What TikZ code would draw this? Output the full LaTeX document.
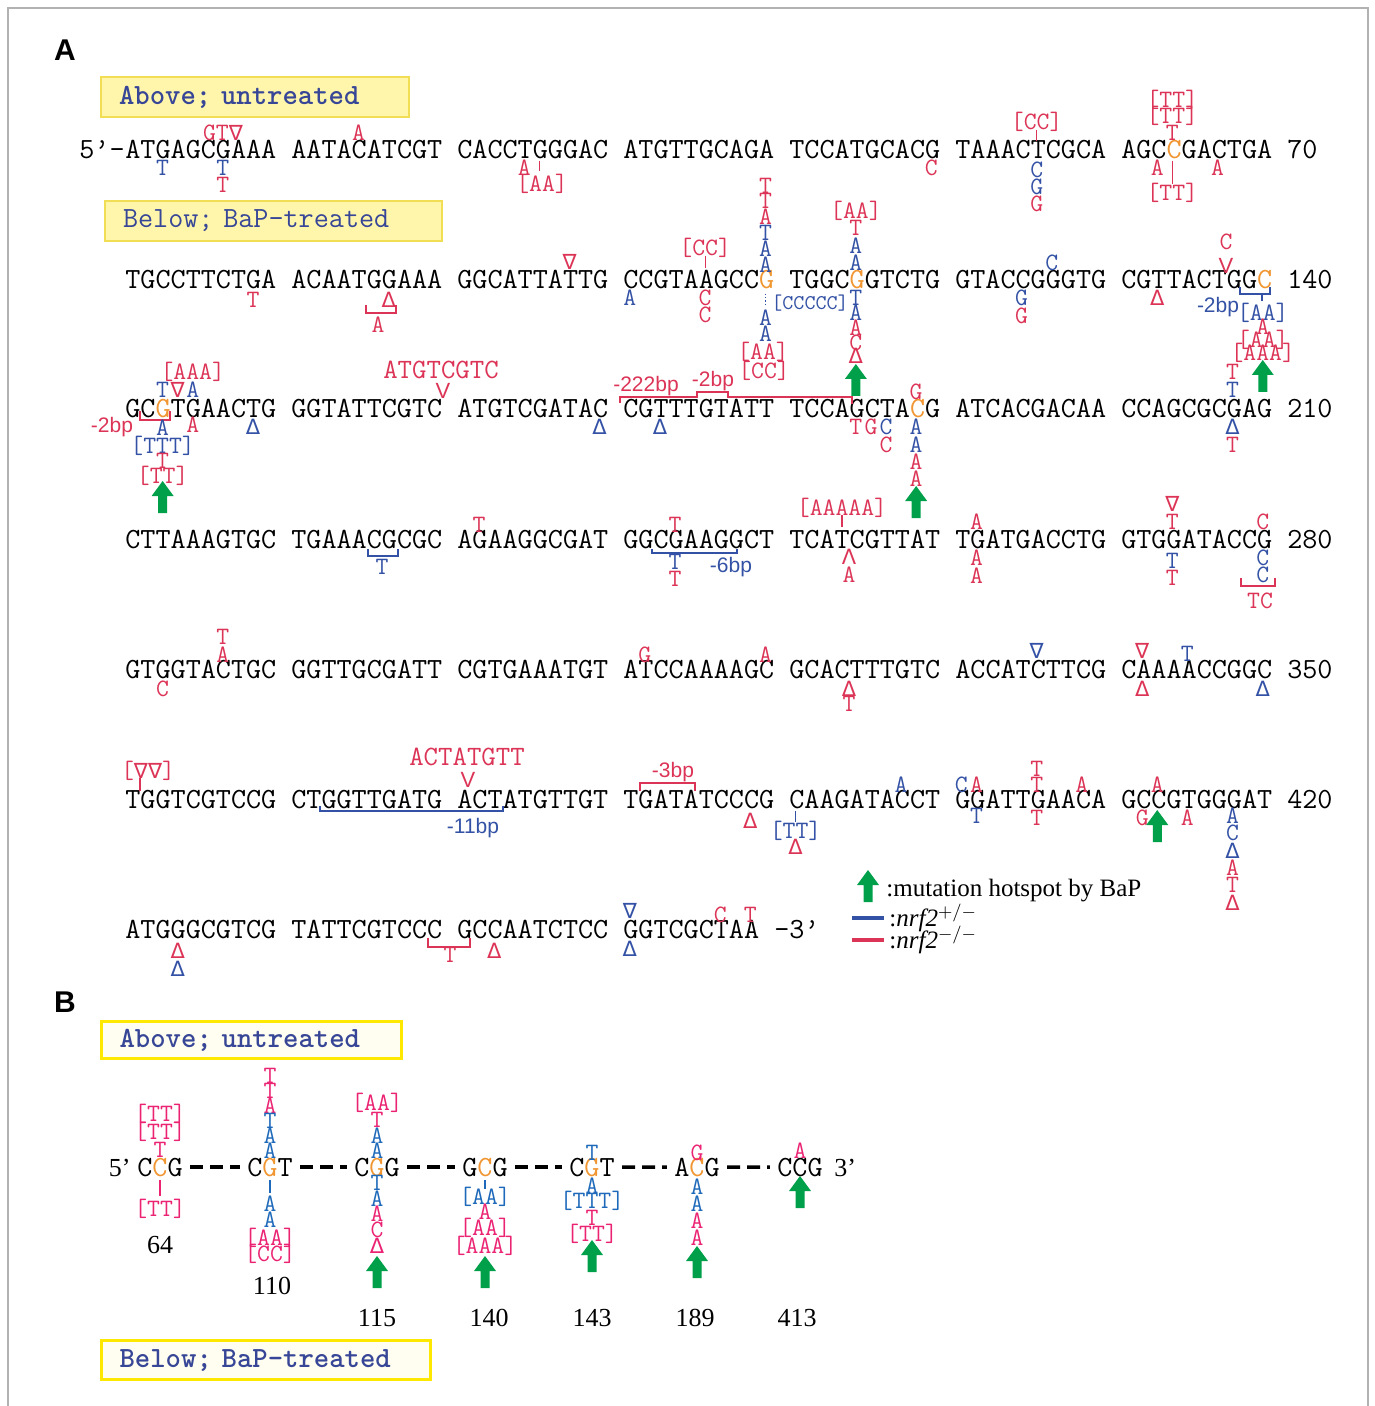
\documentclass[tikz,border=0pt]{standalone}
\usepackage{fontspec}
\setmainfont{Liberation Serif}
\newfontfamily\labfont{Liberation Sans}
\newfontfamily\trifont{DejaVu Sans}
\usetikzlibrary{positioning}

\definecolor{mred}{RGB}{220,52,86}
\definecolor{mblue}{RGB}{52,82,165}
\definecolor{hot}{RGB}{240,150,50}
\definecolor{hotgreen}{RGB}{0,160,75}
\definecolor{bred}{RGB}{235,35,115}
\definecolor{bblue}{RGB}{30,105,185}
\definecolor{boxfill}{RGB}{255,246,172}
\definecolor{boxline}{RGB}{242,222,84}
\definecolor{bboxline}{RGB}{255,232,0}
\definecolor{boxtext}{RGB}{55,70,150}

\newcommand\kx[1]{132.5+15.07*#1}
\newcounter{mk}
\newcommand\mk[4]{\stepcounter{mk}\node[ann,text=#1] (mk\arabic{mk}) at ({#2},{#3+8}) {#4};}
\newcommand\bp[4]{\stepcounter{mk}\node[bplab,text=#1] (bp\arabic{mk}) at ({#2},{#3+8}) {#4};}
\newcommand\ins[4]{\stepcounter{mk}\node[inslab,text=#1] (in\arabic{mk}) at ({#2},{#3+8}) {#4};}
\newcommand\Dtri{{\fontsize{10.5pt}{10.5pt}\trifont Δ}}
\newcommand\Ntri{{\fontsize{10.5pt}{10.5pt}\trifont ∇}}
\newcommand\Ltri{{\fontsize{10.5pt}{10.5pt}\trifont Λ}}
\newcommand\hc[1]{{\color{hot}#1}}

\tikzset{
  seq/.style={font=\fontsize{14.65pt}{16pt}\ttfamily, inner sep=0, text=black},
  ann/.style={font=\fontsize{12.5pt}{12.5pt}\ttfamily, inner sep=0, anchor=base},
  bplab/.style={font=\fontsize{10.5pt}{10.5pt}\labfont, inner sep=0, anchor=base},
  inslab/.style={font=\fontsize{11pt}{11pt}\labfont, inner sep=0, anchor=base},
  legend/.style={font=\fontsize{12.5pt}{13pt}\selectfont, inner sep=0, anchor=west},
  num/.style={font=\fontsize{13pt}{13pt}\selectfont, inner sep=0},
  plab/.style={font=\fontsize{15pt}{15pt}\labfont\bfseries, inner sep=0},
  tick/.style={line width=0.6pt},
  brk/.style={line width=0.8pt},
  abox/.style={draw=boxline, fill=boxfill, line width=1pt, anchor=north west,
    inner xsep=9pt, inner ysep=0, align=left, text=boxtext,
    font=\fontsize{14.65pt}{16pt}\ttfamily},
  bbox/.style={abox, draw=bboxline, fill=yellow!6, line width=1.6pt},
  bdash/.style={line width=1.75pt, dash pattern=on 6.5pt off 3.5pt},
  triplet/.style={seq, anchor=base, inner xsep=3.5pt},
  hotspot/.pic={\fill[hotgreen] (-4.5,32)--(-4.5,15)--(-11,15)--(0,0)--(11,15)--(4.5,15)--(4.5,32)--cycle;}
}

\begin{document}
\begin{tikzpicture}[x=0.5pt,y=-0.5pt]
\useasboundingbox (0,0) rectangle (1374,1406);
\draw[gray!60,line width=0.8pt] (8,8) rectangle (1368,1430);
\node[plab] (pA) at (65,50) {A};
\node[plab] (pB) at (65,1002) {B};

\node[abox, text width=136pt, minimum height=20pt] (aboveA) at (100,76) {\bfseries Above; untreated};
\node[abox, text width=150.5pt, minimum height=20pt] (belowA) at (104,200) {Below; BaP-treated};

% sequence
\node[seq, anchor=base west] (row1) at (125,159) {ATGAGCGAAA AATACATCGT CACCTGGGAC ATGTTGCAGA TCCATGCACG TAAACTCGCA AGC\hc{C}GACTGA 70};
\node[seq, anchor=base east] (five) at (row1.base west) {5’-};
\node[seq, anchor=base west] (row2) at (125,289) {TGCCTTCTGA ACAATGGAAA GGCATTATTG CCGTAAGCC\hc{G} TGGC\hc{G}GTCTG GTACCGGGTG CGTTACTGG\hc{C} 140};
\node[seq, anchor=base west] (row3) at (125,418) {GC\hc{G}TGAACTG GGTATTCGTC ATGTCGATAC CGTTTGTATT TCCAGCTA\hc{C}G ATCACGACAA CCAGCGCGAG 210};
\node[seq, anchor=base west] (row4) at (125,548) {CTTAAAGTGC TGAAACGCGC AGAAGGCGAT GGCGAAGGCT TCATCGTTAT TGATGACCTG GTGGATACCG 280};
\node[seq, anchor=base west] (row5) at (125,678) {GTGGTACTGC GGTTGCGATT CGTGAAATGT ATCCAAAAGC GCACTTTGTC ACCATCTTCG CAAAACCGGC 350};
\node[seq, anchor=base west] (row6) at (125,808) {TGGTCGTCCG CTGGTTGATG ACTATGTTGT TGATATCCCG CAAGATACCT GGATTGAACA GCCGTGGGAT 420};
\node[seq, anchor=base west] (row7) at (125,938) {ATGGGCGTCG TATTCGTCCC GCCAATCTCC GGTCGCTAA -3’};

% row 1
\mk{mred}{\kx{6}}{133}{GT\Ntri}
\mk{mblue}{\kx{2}}{168}{T}
\mk{mblue}{\kx{6}}{168}{T}
\mk{mred}{\kx{6}}{185}{T}
\mk{mred}{\kx{15}}{133}{A}
\mk{mred}{\kx{26}}{168}{A}
\draw[mred,tick] ({\kx{27}},161)--({\kx{27}},171);
\mk{mred}{542}{184}{[AA]}
\mk{mred}{\kx{53}}{168}{C}
\mk{mred}{\kx{60}}{122}{[CC]}
\draw[mred,tick] ({\kx{60}},130)--({\kx{60}},141);
\mk{mblue}{\kx{60}}{170}{C}
\mk{mblue}{\kx{60}}{187}{G}
\mk{mred}{\kx{60}}{204}{G}
\mk{mred}{\kx{69}}{100}{[TT]}
\mk{mred}{\kx{69}}{116}{[TT]}
\mk{mred}{\kx{69}}{133}{T}
\mk{mred}{\kx{68}}{168}{A}
\draw[mred,tick] ({\kx{69}},161)--({\kx{69}},184);
\mk{mred}{\kx{69}}{193}{[TT]}
\mk{mred}{\kx{72}}{168}{A}

% row 2
\mk{mred}{\kx{8}}{300}{T}
\mk{mred}{\kx{17}}{300}{\Dtri}
\draw[mred,brk] (366,305)--(366,313)--(396,313)--(396,305);
\mk{mred}{378}{325}{A}
\mk{mred}{\kx{29}}{262}{\Ntri}
\mk{mblue}{\kx{33}}{298}{A}
\mk{mred}{\kx{38}}{248}{[CC]}
\draw[mred,tick] ({\kx{38}},256)--({\kx{38}},268);
\mk{mred}{\kx{38}}{298}{C}
\mk{mred}{\kx{38}}{315}{C}
\mk{mred}{\kx{42}}{186}{T}
\mk{mred}{\kx{42}}{201}{T}
\mk{mred}{\kx{42}}{217}{A}
\mk{mblue}{\kx{42}}{233}{T}
\mk{mblue}{\kx{42}}{249}{A}
\mk{mblue}{\kx{42}}{265}{A}
\draw[mblue,tick,densely dotted] ({\kx{42}},294)--({\kx{42}},306);
\mk{mblue}{810}{302}{\fontsize{10.5pt}{10.5pt}\selectfont[CCCCC]}
\mk{mblue}{\kx{42}}{318}{A}
\mk{mblue}{\kx{42}}{334}{A}
\mk{mred}{763}{352}{[AA]}
\mk{mred}{764}{371}{[CC]}
\mk{mred}{\kx{48}}{211}{[AA]}
\mk{mred}{\kx{48}}{228}{T}
\mk{mblue}{\kx{48}}{246}{A}
\mk{mblue}{\kx{48}}{263}{A}
\mk{mblue}{\kx{48}}{298}{T}
\mk{mblue}{\kx{48}}{313}{A}
\mk{mred}{\kx{48}}{328}{A}
\mk{mred}{\kx{48}}{343}{C}
\mk{mred}{\kx{48}}{356}{\Dtri}
\pic at ({\kx{48}},364) {hotspot};
\mk{mblue}{\kx{61}}{263}{C}
\mk{mblue}{\kx{59}}{298}{G}
\mk{mred}{\kx{59}}{316}{G}
\mk{mred}{\kx{68}}{298}{\Dtri}
\mk{mred}{1226}{242}{C}
\ins{mred}{1226}{266}{V}
\draw[mblue,brk] (1240,287)--(1240,294)--(1270,294)--(1270,287);
\draw[mblue,tick] (1262,294)--(1262,301);
\bp{mblue}{1218}{305}{-2bp}
\mk{mblue}{\kx{75}}{313}{[AA]}
\mk{mred}{\kx{75}}{327}{A}
\mk{mred}{\kx{75}}{340}{[AA]}
\mk{mred}{\kx{75}}{353}{[AAA]}
\pic at ({\kx{75}},360) {hotspot};

% row 3
\mk{mred}{\kx{4}}{372}{[AAA]}
\mk{mblue}{\kx{2}}{390}{T}
\mk{mred}{\kx{3}}{390}{\Ntri}
\mk{mblue}{\kx{4}}{390}{A}
\draw[mred,brk] (140,411)--(140,420)--(170,420)--(170,411);
\bp{mred}{112}{425}{-2bp}
\mk{mblue}{\kx{2}}{428}{A}
\mk{mred}{\kx{4}}{425}{A}
\mk{mblue}{\kx{8}}{427}{\Dtri}
\mk{mblue}{\kx{2}}{445}{[TTT]}
\mk{mred}{\kx{2}}{460}{T}
\mk{mred}{\kx{2}}{475}{[TT]}
\pic at ({\kx{2}},481) {hotspot};
\mk{mred}{441}{371}{\fontsize{14pt}{14pt}\selectfont ATGTCGTC}
\ins{mred}{443}{391}{V}
\mk{mblue}{\kx{31}}{427}{\Dtri}
\mk{mblue}{\kx{35}}{427}{\Dtri}
\bp{mred}{646}{384}{-222bp}
\bp{mred}{713}{379}{-2bp}
\draw[mred,brk] (620,403)--(620,397)--(697,397)--(697,392)--(728,392)--(728,397)--(852,397)--(852,404);
\mk{mred}{\kx{52}}{392}{G}
\mk{mred}{\kx{48}}{427}{T}
\mk{mred}{\kx{49}}{427}{G}
\mk{mblue}{\kx{50}}{427}{C}
\mk{mred}{\kx{50}}{444}{C}
\mk{mblue}{\kx{52}}{427}{A}
\mk{mblue}{\kx{52}}{444}{A}
\mk{mred}{\kx{52}}{461}{A}
\mk{mred}{\kx{52}}{478}{A}
\pic at ({\kx{52}},486) {hotspot};
\mk{mred}{\kx{73}}{372}{T}
\mk{mblue}{\kx{73}}{390}{T}
\mk{mblue}{\kx{73}}{427}{\Dtri}
\mk{mred}{\kx{73}}{444}{T}

% row 4
\draw[mblue,brk] (368,549)--(368,556)--(398,556)--(398,549);
\mk{mblue}{382}{566}{T}
\mk{mred}{\kx{23}}{524}{T}
\mk{mred}{\kx{36}}{524}{T}
\draw[mblue,brk] (652,549)--(652,553)--(737,553)--(737,549);
\mk{mblue}{\kx{36}}{561}{T}
\mk{mred}{\kx{36}}{578}{T}
\bp{mblue}{731}{564}{-6bp}
\mk{mred}{842}{507}{[AAAAA]}
\draw[mred,tick] (842,515)--(842,527);
\mk{mred}{849}{556}{\Ltri}
\mk{mred}{849}{574}{A}
\mk{mred}{\kx{56}}{521}{A}
\mk{mred}{\kx{56}}{557}{A}
\mk{mred}{\kx{56}}{575}{A}
\mk{mred}{\kx{69}}{503}{\Ntri}
\mk{mred}{\kx{69}}{521}{T}
\mk{mblue}{\kx{69}}{560}{T}
\mk{mred}{\kx{69}}{577}{T}
\mk{mred}{\kx{75}}{521}{C}
\mk{mblue}{\kx{75}}{557}{C}
\mk{mblue}{\kx{75}}{574}{C}
\draw[mred,brk] (1241,578)--(1241,586)--(1275,586)--(1275,578);
\mk{mred}{1260}{600}{TC}

% row 5
\mk{mred}{\kx{6}}{636}{T}
\mk{mred}{\kx{6}}{654}{A}
\mk{mred}{\kx{2}}{688}{C}
\mk{mred}{\kx{34}}{654}{G}
\mk{mred}{\kx{42}}{654}{A}
\mk{mred}{849}{688}{\Dtri}
\mk{mred}{849}{703}{T}
\mk{mblue}{\kx{60}}{650}{\Ntri}
\mk{mred}{\kx{67}}{650}{\Ntri}
\mk{mblue}{\kx{70}}{653}{T}
\mk{mred}{\kx{67}}{688}{\Dtri}
\mk{mblue}{\kx{75}}{688}{\Dtri}

% row 6
\mk{mred}{148}{770}{[\Ntri\Ntri]}
\draw[mred,tick] (140,778)--(140,791);
\draw[mblue,brk] (320,806)--(320,811)--(503,811)--(503,806);
\bp{mblue}{473}{825}{-11bp}
\mk{mred}{467}{757}{\fontsize{14pt}{14pt}\selectfont ACTATGTT}
\ins{mred}{468}{779}{V}
\draw[mred,brk] (640,791)--(640,783)--(695,783)--(695,791);
\bp{mred}{673}{769}{-3bp}
\mk{mred}{\kx{41}}{820}{\Dtri}
\draw[mblue,tick] ({\kx{44}},811)--({\kx{44}},822);
\mk{mblue}{\kx{44}}{830}{[TT]}
\mk{mred}{\kx{44}}{846}{\Dtri}
\mk{mblue}{\kx{51}}{784}{A}
\mk{mblue}{\kx{55}}{784}{C}
\mk{mred}{\kx{56}}{784}{A}
\mk{mblue}{\kx{56}}{815}{T}
\mk{mred}{\kx{60}}{768}{T}
\mk{mred}{\kx{60}}{784}{T}
\mk{mred}{\kx{60}}{817}{T}
\mk{mred}{\kx{63}}{784}{A}
\mk{mred}{\kx{68}}{784}{A}
\mk{mred}{\kx{67}}{817}{G}
\pic at ({\kx{68}},810) {hotspot};
\mk{mred}{\kx{70}}{817}{A}
\mk{mblue}{\kx{73}}{815}{A}
\mk{mblue}{\kx{73}}{832}{C}
\mk{mblue}{\kx{73}}{850}{\Dtri}
\mk{mred}{\kx{73}}{867}{A}
\mk{mred}{\kx{73}}{884}{T}
\mk{mred}{\kx{73}}{902}{\Dtri}

% row 7
\mk{mred}{\kx{3}}{950}{\Dtri}
\mk{mblue}{\kx{3}}{968}{\Dtri}
\draw[mred,brk] (428,938)--(428,947)--(470,947)--(470,938);
\mk{mred}{450}{954}{T}
\mk{mred}{\kx{24}}{950}{\Dtri}
\mk{mblue}{\kx{33}}{910}{\Ntri}
\mk{mblue}{\kx{33}}{948}{\Dtri}
\mk{mred}{\kx{39}}{914}{C}
\mk{mred}{\kx{41}}{914}{T}

% legend
\pic at (868,870) {hotspot};
\node[legend] (lg1) at (886,891) {:mutation hotspot by BaP};
\coordinate (kb) at (884,918);
\draw[mblue,line width=2pt] (852,918) -- (kb);
\node[legend, right=2.5pt of kb] (lg2) {:\textit{nrf2}$^{+/-}$};
\coordinate (kr) at (884,940);
\draw[mred,line width=2pt] (852,940) -- (kr);
\node[legend, right=2.5pt of kr] (lg3) {:\textit{nrf2}$^{-/-}$};

% panel B
\node[bbox, text width=132pt, minimum height=18.5pt] (aboveB) at (100,1020) {\bfseries Above; untreated};
\node[bbox, text width=146.5pt, minimum height=19.5pt] (belowB) at (100,1339) {\bfseries Below; BaP-treated};

\node[triplet] (t64) at (160,1176) {C\hc{C}G};
\node[triplet] (t110) at (270,1176) {C\hc{G}T};
\node[triplet] (t115) at (377,1176) {C\hc{G}G};
\node[triplet] (t140) at (485,1176) {G\hc{C}G};
\node[triplet] (t143) at (592,1176) {C\hc{G}T};
\node[triplet] (t189) at (697,1176) {A\hc{C}G};
\node[triplet] (t413) at (800,1176) {CCG};
\node[num, anchor=base east] (b5) at (131,1176) {5’};
\node[num, anchor=base west] (b3) at (834,1176) {3’};
\draw[bdash] (t64) -- (t110);
\draw[bdash] (t110) -- (t115);
\draw[bdash] (t115) -- (t140);
\draw[bdash] (t140) -- (t143);
\draw[bdash] (t143) -- (t189);
\draw[bdash] (t189) -- (t413);

\mk{bred}{160}{1113}{[TT]}
\mk{bred}{160}{1131}{[TT]}
\mk{bred}{160}{1149}{T}
\draw[bred,tick] (160,1180)--(160,1196);
\mk{bred}{160}{1208}{[TT]}

\mk{bred}{270}{1075}{T}
\mk{bred}{270}{1090}{T}
\mk{bred}{270}{1105}{A}
\mk{bblue}{270}{1120}{T}
\mk{bblue}{270}{1135}{A}
\mk{bblue}{270}{1150}{A}
\draw[bblue,tick] (270,1180)--(270,1193);
\mk{bblue}{270}{1203}{A}
\mk{bblue}{270}{1219}{A}
\mk{bred}{270}{1237}{[AA]}
\mk{bred}{270}{1253}{[CC]}

\mk{bred}{377}{1102}{[AA]}
\mk{bred}{377}{1119}{T}
\mk{bblue}{377}{1135}{A}
\mk{bblue}{377}{1150}{A}
\mk{bblue}{377}{1182}{T}
\mk{bblue}{377}{1198}{A}
\mk{bred}{377}{1213}{A}
\mk{bred}{377}{1229}{C}
\mk{bred}{377}{1245}{\Dtri}
\pic at (377,1256) {hotspot};

\draw[bblue,tick] (485,1180)--(485,1189);
\mk{bblue}{485}{1196}{[AA]}
\mk{bred}{485}{1211}{A}
\mk{bred}{485}{1227}{[AA]}
\mk{bred}{485}{1245}{[AAA]}
\pic at (485,1256) {hotspot};

\mk{bblue}{592}{1152}{T}
\mk{bblue}{592}{1185}{A}
\mk{bblue}{592}{1200}{[TTT]}
\mk{bred}{592}{1217}{T}
\mk{bred}{592}{1233}{[TT]}
\pic at (592,1240) {hotspot};

\mk{bred}{697}{1152}{G}
\mk{bblue}{697}{1186}{A}
\mk{bblue}{697}{1203}{A}
\mk{bred}{697}{1220}{A}
\mk{bred}{697}{1237}{A}
\pic at (697,1246) {hotspot};

\mk{bred}{800}{1150}{A}
\pic at (800,1176) {hotspot};

\node[num] (n64) at (160,1245) {64};
\node[num] (n110) at (272,1286) {110};
\node[num] (n115) at (377,1318) {115};
\node[num] (n140) at (489,1318) {140};
\node[num] (n143) at (592,1318) {143};
\node[num] (n189) at (695,1318) {189};
\node[num] (n413) at (797,1318) {413};
\end{tikzpicture}
\end{document}
